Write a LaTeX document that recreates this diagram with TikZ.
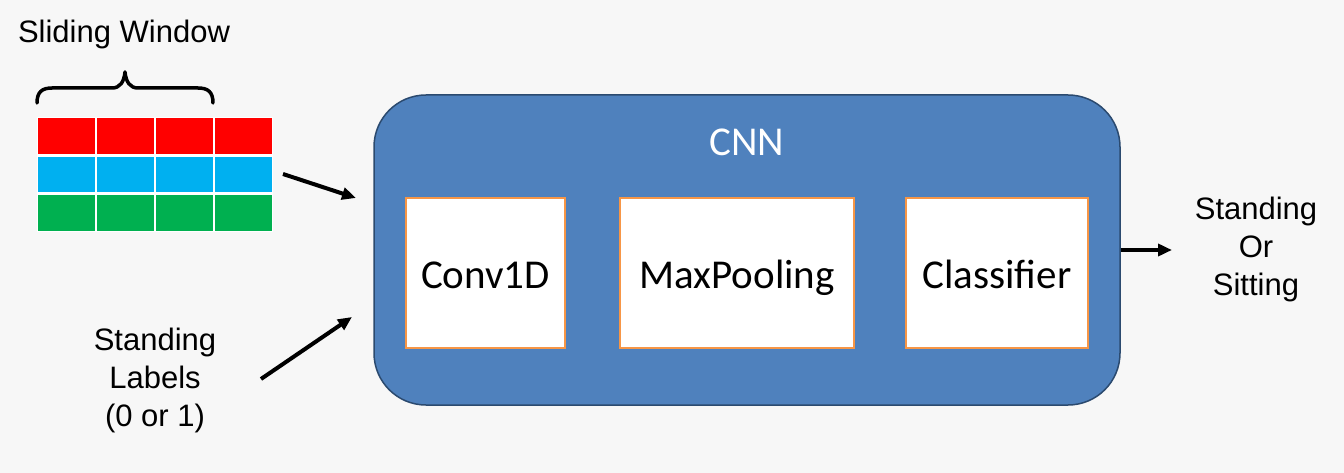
\documentclass[tikz,border=0pt]{standalone}
\usepackage{fontspec}
\setmainfont{Liberation Sans}
\newfontfamily\calib{Carlito}
\usetikzlibrary{arrows.meta}
\definecolor{bg}{HTML}{F7F7F7}
\definecolor{cnnblue}{HTML}{4F81BD}
\definecolor{cnnedge}{HTML}{2B4A6F}
\definecolor{boxorange}{HTML}{F79646}
\definecolor{cred}{HTML}{FF0000}
\definecolor{cblue}{HTML}{00B0F0}
\definecolor{cgreen}{HTML}{00B050}
\tikzset{
  cell/.style={draw=white, line width=1.5pt, minimum width=58pt, minimum height=37pt, inner sep=0pt, outer sep=0pt},
  layerbox/.style={draw=boxorange, line width=2pt, fill=white, minimum height=150pt, inner sep=0pt,
    text height=30pt, text depth=0pt, font=\calib\fontsize{41}{49}\selectfont},
  lbl/.style={align=center, font=\fontsize{31}{38}\selectfont, inner sep=0pt},
  arr/.style={line width=4pt, -{Triangle[length=14pt,width=12pt]}},
}
\begin{document}
\begin{tikzpicture}[x=1pt,y=-1pt]
\fill[bg] (0,0) rectangle (1344,473);
\useasboundingbox (0,0) rectangle (1344,473);

% CNN box
\node[draw=cnnedge, line width=1.5pt, fill=cnnblue, rounded corners=52pt,
      minimum width=746pt, minimum height=310pt, inner sep=0pt] (cnn) at (747,250) {};
\node[text=white, font=\calib\fontsize{41}{49}\selectfont, inner sep=0pt] (cnnlbl) at (747,142) {CNN};

% layers
\node[layerbox, minimum width=159pt] (conv) at (485.5,273) {Conv1D};
\node[layerbox, minimum width=234pt] (pool) at (737,273) {MaxPooling};
\node[layerbox, minimum width=182pt] (cls) at (997,273) {Classifier};

% grid
\foreach \c/\x in {1/66.5,2/125.5,3/184.5,4/243.5}{
  \node[cell, fill=cred] (r\c) at (\x,136) {};
  \node[cell, fill=cblue] (b\c) at (\x,174.5) {};
  \node[cell, fill=cgreen] (g\c) at (\x,213) {};
}

% brace
\draw[line width=3.5pt, line cap=round, line join=round]
  (37,103) .. controls (37,92) and (42,88) .. (52,88)
  -- (112,88) .. controls (120,88) and (124,82) .. (125,72)
  .. controls (126,82) and (130,88) .. (138,88)
  -- (198,88) .. controls (208,88) and (213,92) .. (213,103);

\node[lbl, anchor=base] (sw) at (124,43) {Sliding Window};

% inputs
\coordinate (a1s) at (283,174);
\coordinate (a1e) at (356,198);
\draw[arr] (a1s) -- (a1e);

\node[lbl] (sl) at (155,380) {Standing\\Labels\\(0 or 1)};
\coordinate (a2s) at (261,379);
\coordinate (a2e) at (352,317);
\draw[arr] (a2s) -- (a2e);

% output
\coordinate (a3e) at (1172,250);
\draw[arr, line width=3.5pt] (cnn.east |- a3e) -- (a3e);
\node[lbl] (out) at (1256,249) {Standing\\Or\\Sitting};
\end{tikzpicture}
\end{document}
